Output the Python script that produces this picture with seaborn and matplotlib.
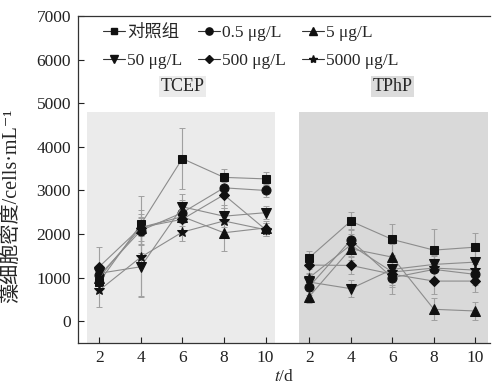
import numpy as np
import pandas as pd
import matplotlib
matplotlib.use("Agg")
import matplotlib.pyplot as plt
import seaborn as sns
from matplotlib.lines import Line2D

sns.set_style("ticks")
plt.rcParams['font.family'] = ['Liberation Serif', 'Noto Sans CJK SC', 'DejaVu Sans']
plt.rcParams['mathtext.fontset'] = 'stix'

days = [2, 4, 6, 8, 10]
groups = ["TCEP", "TPhP"]
series_labels = ["对照组", "0.5 μg/L", "5 μg/L", "50 μg/L", "500 μg/L", "5000 μg/L"]

# TCEP means / errors
tcep_control = [900, 2220, 3730, 3300, 3265]
tcep_05 = [1050, 2080, 2490, 3060, 3000]
tcep_5 = [1000, 2150, 2400, 2030, 2140]
tcep_50 = [1100, 1250, 2625, 2410, 2490]
tcep_500 = [1250, 2150, 2340, 2900, 2105]
tcep_5000 = [710, 1470, 2045, 2300, 2100]
tcep_control_err = [250, 650, 700, 200, 150]
tcep_05_err = [200, 300, 300, 200, 150]
tcep_5_err = [200, 300, 300, 420, 150]
tcep_50_err = [200, 700, 300, 250, 150]
tcep_500_err = [450, 400, 300, 300, 150]
tcep_5000_err = [380, 900, 200, 300, 150]

# TPhP means / errors
tphp_control = [1457, 2296, 1876, 1632, 1700]
tphp_05 = [794, 1861, 1000, 1190, 1075]
tphp_5 = [565, 1663, 1471, 275, 236]
tphp_50 = [900, 748, 1190, 1304, 1357]
tphp_500 = [1289, 1281, 1080, 922, 922]
tphp_5000 = [1000, 1750, 1130, 1220, 1174]
tphp_control_err = [150, 200, 360, 490, 330]
tphp_05_err = [200, 250, 370, 300, 250]
tphp_5_err = [150, 250, 300, 250, 200]
tphp_50_err = [200, 200, 300, 300, 250]
tphp_500_err = [200, 200, 300, 300, 250]
tphp_5000_err = [200, 250, 300, 300, 250]

means = {
    "TCEP": [tcep_control, tcep_05, tcep_5, tcep_50, tcep_500, tcep_5000],
    "TPhP": [tphp_control, tphp_05, tphp_5, tphp_50, tphp_500, tphp_5000],
}
errs = {
    "TCEP": [tcep_control_err, tcep_05_err, tcep_5_err, tcep_50_err, tcep_500_err, tcep_5000_err],
    "TPhP": [tphp_control_err, tphp_05_err, tphp_5_err, tphp_50_err, tphp_500_err, tphp_5000_err],
}
offsets = {"TCEP": 0, "TPhP": 10.1}
markers = ["s", "o", "^", "v", "D", "*"]
msizes = [6, 6.5, 6.5, 6.5, 5.5, 7.5]

rows = []
for g in groups:
    for si, lab in enumerate(series_labels):
        for di, d in enumerate(days):
            rows.append(dict(group=g, series=lab, day=d, pos=d + offsets[g],
                             mean=means[g][si][di], err=errs[g][si][di]))
df = pd.DataFrame(rows)

FS = 12.5
fig = plt.figure(figsize=(4.92, 3.89), dpi=100)
ax = fig.add_axes([0.1585, 0.118, 0.996 - 0.1585, 0.9589 - 0.118])

# shaded panels
ax.axvspan(1.42, 10.44, ymin=0, ymax=(4800 + 500) / 7500, color="#ebebeb", lw=0, zorder=0)
ax.axvspan(11.6, 20.7, ymin=0, ymax=(4800 + 500) / 7500, color="#d9d9d9", lw=0, zorder=0)

line_col = "#8c8c8c"
for g in groups:
    for si, lab in enumerate(series_labels):
        sub = df[(df.group == g) & (df.series == lab)]
        ax.errorbar(sub["pos"], sub["mean"], yerr=sub["err"], fmt="none",
                    ecolor="#a0a0a0", elinewidth=0.8, capsize=2.2, capthick=0.7, zorder=1)
        sns.lineplot(data=sub, x="pos", y="mean", ax=ax, color=line_col, lw=0.8,
                     marker=markers[si], markersize=msizes[si], markerfacecolor="#111111",
                     markeredgecolor="#111111", estimator=None, sort=False, zorder=2,
                     legend=False)

ax.set_xlim(0.98, 20.8)
ax.set_ylim(-500, 7000)
ax.set_xticks([d + offsets[g] for g in groups for d in days])
ax.set_xticklabels([str(d) for g in groups for d in days])
ax.set_yticks(range(0, 7001, 1000))
ax.tick_params(direction="in", length=4, width=0.8, labelsize=FS, colors="#222222", pad=5)
for s in ["left", "top", "bottom"]:
    ax.spines[s].set_linewidth(0.9)
    ax.spines[s].set_color("#333333")
ax.spines["right"].set_visible(False)

ax.set_xlabel("$t$/d", fontsize=FS, labelpad=2)
ax.set_ylabel("藻细胞密度/cells·mL⁻¹", fontsize=14.5)
ax.yaxis.set_label_coords(-0.137, 0.42)

ax.text(6, 5380, "TCEP", ha="center", va="center", fontsize=13,
        bbox=dict(boxstyle="square,pad=0.1", fc="#ebebeb", ec="none"))
ax.text(16.1, 5380, "TPhP", ha="center", va="center", fontsize=13,
        bbox=dict(boxstyle="square,pad=0.1", fc="#dcdcdc", ec="none"))

handles = [Line2D([0], [0], color="#333333", lw=0.8, marker=m, markersize=ms * 0.8,
                  markerfacecolor="#111111", markeredgecolor="#111111")
           for m, ms in zip(markers, msizes)]
order = [0, 3, 1, 4, 2, 5]
leg = ax.legend([handles[i] for i in order], [series_labels[i] for i in order],
                ncol=3, loc="upper left", bbox_to_anchor=(0.035, 1.006),
                frameon=False, fontsize=FS, handlelength=1.3, handletextpad=0.1,
                columnspacing=0.9, labelspacing=0.72, borderaxespad=0.2)

fig.savefig("out.png", dpi=100)
